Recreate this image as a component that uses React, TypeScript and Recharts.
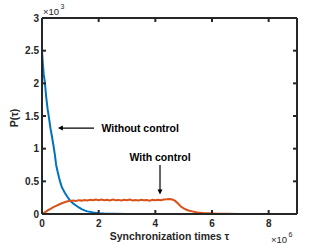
import React from 'react';
import { LineChart, Line, XAxis, YAxis, ReferenceLine } from 'recharts';

// x values in units of 1e6, y values in units of 1e3
const xTicks = [0, 2, 4, 6, 8];
const yTicks = [0, 0.5, 1, 1.5, 2, 2.5, 3];

const withoutTimes = [0, 0.03, 0.06, 0.1, 0.15, 0.2, 0.25, 0.3, 0.35, 0.4, 0.45, 0.5, 0.55, 0.6, 0.65, 0.7, 0.8, 0.9, 1.0, 1.1, 1.2, 1.3, 1.4, 1.5, 1.6, 1.8, 2.0, 2.2, 2.5, 3.0, 3.5, 4.0, 4.5];
const withoutCounts = [2.5, 2.3, 2.14, 2.02, 1.78, 1.6, 1.46, 1.31, 1.19, 1.06, 0.92, 0.75, 0.65, 0.56, 0.48, 0.41, 0.33, 0.26, 0.2, 0.16, 0.13, 0.1, 0.075, 0.055, 0.04, 0.025, 0.012, 0.006, 0.003, 0.001, 0, 0, 0];

const withTimes = [0, 0.1, 0.2, 0.3, 0.4, 0.5, 0.6, 0.7, 0.8, 0.9, 1.0, 1.1, 1.2, 1.3, 1.4, 1.5, 1.6, 1.7, 1.8, 1.9, 2.0, 2.1, 2.2, 2.3, 2.4, 2.5, 2.6, 2.7, 2.8, 2.9, 3.0, 3.1, 3.2, 3.3, 3.4, 3.5, 3.6, 3.7, 3.8, 3.9, 4.0, 4.1, 4.2, 4.3, 4.4, 4.5, 4.6, 4.7, 4.8, 4.9, 5.0, 5.1, 5.2, 5.3, 5.4, 5.5, 5.6, 5.7, 5.8, 5.9, 6.0, 6.2, 6.5, 7.0, 7.5, 8.0, 9.0];
const withCounts = [0, 0.025, 0.055, 0.08, 0.105, 0.125, 0.145, 0.165, 0.18, 0.195, 0.2, 0.205, 0.2, 0.212, 0.205, 0.215, 0.208, 0.218, 0.21, 0.22, 0.212, 0.222, 0.21, 0.218, 0.208, 0.22, 0.212, 0.216, 0.206, 0.218, 0.21, 0.22, 0.208, 0.214, 0.206, 0.218, 0.21, 0.215, 0.205, 0.216, 0.21, 0.218, 0.212, 0.222, 0.225, 0.23, 0.222, 0.2, 0.16, 0.115, 0.085, 0.065, 0.05, 0.04, 0.03, 0.024, 0.019, 0.015, 0.012, 0.01, 0.008, 0.005, 0.002, 0.001, 0, 0, 0];

const withoutData = withoutTimes.map((t, i) => ({ t, p: withoutCounts[i] }));
const withData = withTimes.map((t, i) => ({ t, p: withCounts[i] }));

const AXIS = '#262626';
const FONT = '"Liberation Sans", Arial, Helvetica, sans-serif';
const BLUE = '#0072BD';
const ORANGE = '#D95319';

const BottomTick = (props: any) => {
  const { x, y, payload } = props;
  return (
    <g>
      <line x1={x} y1={y} x2={x} y2={y - 4} stroke={AXIS} strokeWidth={2} />
      <text x={x} y={y + 12.5} textAnchor="middle" fontFamily={FONT} fontSize={10} fontWeight="bold" fill={AXIS}>
        {payload.value}
      </text>
    </g>
  );
};

const TopTick = (props: any) => {
  const { x, y } = props;
  return <line x1={x} y1={y} x2={x} y2={y + 4} stroke={AXIS} strokeWidth={2} />;
};

const LeftTick = (props: any) => {
  const { x, y, payload } = props;
  return (
    <g>
      <line x1={x} y1={y} x2={x + 4} y2={y} stroke={AXIS} strokeWidth={2} />
      <text x={x - 3} y={y + 3.6} textAnchor="end" fontFamily={FONT} fontSize={10} fontWeight="bold" fill={AXIS}>
        {payload.value}
      </text>
    </g>
  );
};

const RightTick = (props: any) => {
  const { x, y } = props;
  return <line x1={x} y1={y} x2={x - 4} y2={y} stroke={AXIS} strokeWidth={2} />;
};

const XLabel = (props: any) => {
  const { viewBox } = props;
  const { x, y, width } = viewBox;
  return (
    <g>
      <text x={x + width / 2} y={y + 26} textAnchor="middle" fontFamily={FONT} fontSize={10.5} fontWeight="bold" fill={AXIS}>
        Synchronization times τ
      </text>
      <text x={x + width - 26} y={y + 29} fontFamily={FONT} fontSize={9.5} fill={AXIS}>×10</text>
      <text x={x + width - 8.5} y={y + 23} fontFamily={FONT} fontSize={7} fill={AXIS}>6</text>
    </g>
  );
};

const YLabel = (props: any) => {
  const { viewBox } = props;
  const { x, y, height, width } = viewBox;
  const cx = x + 14;
  const cy = y + height / 2 + 2;
  return (
    <g>
      <text x={cx} y={cy} transform={`rotate(-90 ${cx} ${cy})`} textAnchor="middle" dominantBaseline="central" fontFamily={FONT} fontSize={10.5} fontWeight="bold" fill={AXIS}>
        P(τ)
      </text>
      <text x={x + width + 1} y={y - 3} fontFamily={FONT} fontSize={9.5} fill={AXIS}>×10</text>
      <text x={x + width + 18.5} y={y - 9} fontFamily={FONT} fontSize={7} fill={AXIS}>3</text>
    </g>
  );
};

const arrowHead = (x1: number, y1: number, x2: number, y2: number) => {
  const dx = x2 - x1;
  const dy = y2 - y1;
  const len = Math.sqrt(dx * dx + dy * dy) || 1;
  const ux = dx / len;
  const uy = dy / len;
  const L = 5;
  const W = 2.5;
  const bx = x2 - ux * L;
  const by = y2 - uy * L;
  return `${x2},${y2} ${bx - uy * W},${by + ux * W} ${bx + uy * W},${by - ux * W}`;
};

const WithoutArrow = (props: any) => {
  const { x1, y1, x2, y2 } = props;
  return (
    <g>
      <line x1={x1} y1={y1} x2={x2 + 4} y2={y2} stroke="#000" strokeWidth={1.2} />
      <polygon points={arrowHead(x1, y1, x2, y2)} fill="#000" />
      <text x={x1 + 7.5} y={y1 + 3.8} fontFamily={FONT} fontSize={10.5} fontWeight="bold" fill="#000">
        Without control
      </text>
    </g>
  );
};

const WithArrow = (props: any) => {
  const { x1, y1, x2, y2 } = props;
  return (
    <g>
      <line x1={x1} y1={y1} x2={x2} y2={y2 - 4} stroke="#000" strokeWidth={1.2} />
      <polygon points={arrowHead(x1, y1, x2, y2)} fill="#000" />
      <text x={x1} y={y1 - 4.5} textAnchor="middle" fontFamily={FONT} fontSize={10.5} fontWeight="bold" fill="#000">
        With control
      </text>
    </g>
  );
};

export default function App() {
  return (
    <div style={{ position: 'absolute', left: 0, top: 0, width: 327, height: 245, background: '#fff' }}>
      <LineChart width={327} height={245} margin={{ top: 17, right: 29, bottom: 0, left: 0 }}>
        <XAxis
          xAxisId="b"
          dataKey="t"
          type="number"
          domain={[0, 9]}
          ticks={xTicks}
          orientation="bottom"
          height={31}
          tickSize={0}
          tickMargin={0}
          tickLine={false}
          tick={<BottomTick />}
          axisLine={{ stroke: AXIS, strokeWidth: 2 }}
          interval={0}
          allowDataOverflow
          label={<XLabel />}
        />
        <XAxis
          xAxisId="t"
          dataKey="t"
          type="number"
          domain={[0, 9]}
          ticks={xTicks}
          orientation="top"
          height={1}
          tickSize={0}
          tickMargin={0}
          tickLine={false}
          tick={<TopTick />}
          axisLine={{ stroke: AXIS, strokeWidth: 2 }}
          interval={0}
          allowDataOverflow
        />
        <YAxis
          yAxisId="l"
          type="number"
          domain={[0, 3]}
          ticks={yTicks}
          orientation="left"
          width={42}
          tickSize={0}
          tickMargin={0}
          tickLine={false}
          tick={<LeftTick />}
          axisLine={{ stroke: AXIS, strokeWidth: 2 }}
          interval={0}
          allowDataOverflow
          label={<YLabel />}
        />
        <YAxis
          yAxisId="r"
          type="number"
          domain={[0, 3]}
          ticks={yTicks}
          orientation="right"
          width={1}
          tickSize={0}
          tickMargin={0}
          tickLine={false}
          tick={<RightTick />}
          axisLine={{ stroke: AXIS, strokeWidth: 2 }}
          interval={0}
          allowDataOverflow
        />
        <Line
          xAxisId="b"
          yAxisId="l"
          data={withoutData}
          dataKey="p"
          type="linear"
          stroke={BLUE}
          strokeWidth={2}
          dot={false}
          isAnimationActive={false}
        />
        <Line
          xAxisId="b"
          yAxisId="l"
          data={withData}
          dataKey="p"
          type="linear"
          stroke={ORANGE}
          strokeWidth={2}
          dot={false}
          isAnimationActive={false}
        />
        <ReferenceLine
          xAxisId="b"
          yAxisId="l"
          segment={[{ x: 1.835, y: 1.315 }, { x: 0.56, y: 1.315 }]}
          shape={(p: any) => <WithoutArrow {...p} />}
        />
        <ReferenceLine
          xAxisId="b"
          yAxisId="l"
          segment={[{ x: 4.165, y: 0.75 }, { x: 4.165, y: 0.3 }]}
          shape={(p: any) => <WithArrow {...p} />}
        />
      </LineChart>
    </div>
  );
}
